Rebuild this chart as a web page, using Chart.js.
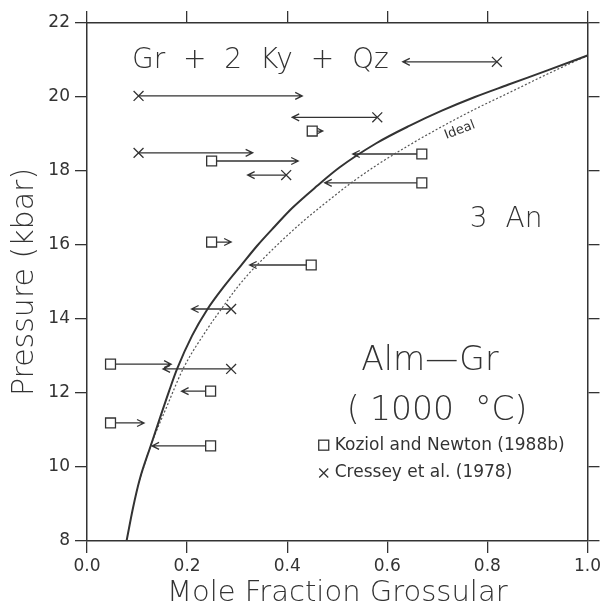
<!DOCTYPE html>
<html>
<head>
<meta charset="utf-8">
<script src="https://cdn.jsdelivr.net/npm/chart.js@4.4.0/dist/chart.umd.min.js"></script>
<style>
  html, body { margin: 0; padding: 0; background: #fff; }
  #grafico { display: block; }
</style>
</head>
<body>
<canvas id="grafico" width="604" height="612"></canvas>
<script>
// curva ajustada (linha cheia) e curva ideal (pontilhada): fração molar x pressão (kbar)
const fitX = [0.079, 0.092, 0.105, 0.128, 0.164, 0.18, 0.21, 0.24, 0.275, 0.308, 0.34, 0.375, 0.41, 0.46, 0.505, 0.578, 0.644, 0.709, 0.775, 0.841, 0.92, 1.0];
const fitP = [8.0, 8.9, 9.65, 10.6, 12.05, 12.65, 13.55, 14.25, 14.9, 15.45, 15.98, 16.5, 17.0, 17.6, 18.1, 18.75, 19.22, 19.63, 20.0, 20.33, 20.72, 21.12];
const idealX = [0.105, 0.128, 0.16, 0.193, 0.239, 0.27, 0.30, 0.323, 0.35, 0.38, 0.43, 0.473, 0.525, 0.578, 0.644, 0.709, 0.775, 0.841, 0.92, 1.0];
const idealP = [9.65, 10.6, 11.65, 12.68, 13.7, 14.3, 14.85, 15.22, 15.6, 16.0, 16.62, 17.1, 17.65, 18.15, 18.7, 19.2, 19.67, 20.1, 20.62, 21.12];

// Koziol and Newton (1988b): quadrado = composição inicial, seta = final
const koziolStart = [0.45, 0.249, 0.669, 0.669, 0.249, 0.448, 0.047, 0.247, 0.047, 0.247];
const koziolEnd = [0.471, 0.422, 0.531, 0.475, 0.288, 0.325, 0.168, 0.189, 0.114, 0.130];
const koziolP = [19.08, 18.27, 18.46, 17.68, 16.08, 15.46, 12.78, 12.05, 11.19, 10.57];

// Cressey et al. (1978)
const cresseyStart = [0.819, 0.103, 0.58, 0.103, 0.398, 0.288, 0.288];
const cresseyEnd = [0.631, 0.43, 0.41, 0.331, 0.321, 0.209, 0.152];
const cresseyP = [20.95, 20.03, 19.45, 18.49, 17.89, 14.27, 12.65];

const xTicks = [0, 0.2, 0.4, 0.6, 0.8, 1.0];
const xTickLabels = ['0.0', '0.2', '0.4', '0.6', '0.8', '1.0'];
const yTicks = [8, 10, 12, 14, 16, 18, 20, 22];
const yTickLabels = ['8', '10', '12', '14', '16', '18', '20', '22'];

const tinta = '#333';
const fonte = "'DejaVu Sans', sans-serif";

function pontos(xs, ys) {
  return xs.map((x, i) => ({ x: x, y: ys[i] }));
}

function seta(ctx, x1, x2, y) {
  const dir = x2 > x1 ? 1 : -1;
  ctx.beginPath();
  ctx.moveTo(x1, y);
  ctx.lineTo(x2, y);
  ctx.moveTo(x2 - dir * 7, y - 3.5);
  ctx.lineTo(x2, y);
  ctx.lineTo(x2 - dir * 7, y + 3.5);
  ctx.stroke();
}

const setas = {
  id: 'setas',
  beforeDatasetsDraw(chart) {
    const { ctx, scales: { x, y } } = chart;
    ctx.save();
    ctx.strokeStyle = tinta;
    ctx.lineWidth = 1.3;
    koziolP.forEach((p, i) => {
      seta(ctx, x.getPixelForValue(koziolStart[i]), x.getPixelForValue(koziolEnd[i]), y.getPixelForValue(p));
    });
    cresseyP.forEach((p, i) => {
      seta(ctx, x.getPixelForValue(cresseyStart[i]), x.getPixelForValue(cresseyEnd[i]), y.getPixelForValue(p));
    });
    ctx.restore();
  }
};

const textos = {
  id: 'textos',
  afterDraw(chart) {
    const { ctx, scales: { x, y } } = chart;
    ctx.save();
    ctx.fillStyle = tinta;
    ctx.strokeStyle = tinta;
    ctx.textBaseline = 'middle';
    ctx.textAlign = 'left';

    ctx.font = '200 28px ' + fonte;
    ctx.fillText('Gr  +  2  Ky  +  Qz', x.getPixelForValue(0.09), y.getPixelForValue(20.97));
    ctx.fillText('3  An', x.getPixelForValue(0.765), y.getPixelForValue(16.68));

    ctx.font = '200 33px ' + fonte;
    ctx.fillText('Alm\u2014Gr', x.getPixelForValue(0.548), y.getPixelForValue(12.86));
    ctx.fillText('( 1000  \u00B0C)', x.getPixelForValue(0.519), y.getPixelForValue(11.49));

    // legenda
    const lx = x.getPixelForValue(0.473);
    const ly1 = y.getPixelForValue(10.59);
    const ly2 = y.getPixelForValue(9.84);
    ctx.lineWidth = 1.3;
    ctx.strokeRect(lx - 5, ly1 - 5, 10, 10);
    ctx.beginPath();
    ctx.moveTo(lx - 4.5, ly2 - 4.5); ctx.lineTo(lx + 4.5, ly2 + 4.5);
    ctx.moveTo(lx + 4.5, ly2 - 4.5); ctx.lineTo(lx - 4.5, ly2 + 4.5);
    ctx.stroke();
    ctx.font = '17px ' + fonte;
    ctx.fillText('Koziol and Newton (1988b)', lx + 11, ly1);
    ctx.fillText('Cressey et al. (1978)', lx + 11, ly2);

    // rótulo da curva ideal
    ctx.translate(x.getPixelForValue(0.745), y.getPixelForValue(19.1));
    ctx.rotate(-21 * Math.PI / 180);
    ctx.textAlign = 'center';
    ctx.font = '13px ' + fonte;
    ctx.fillText('Ideal', 0, 0);
    ctx.restore();
  }
};

function eixo(posicao, min, max, valores, rotulos, tamanho) {
  const horizontal = posicao === 'bottom' || posicao === 'top';
  return {
    type: 'linear',
    position: posicao,
    min: min,
    max: max,
    afterBuildTicks: s => { s.ticks = valores.map(v => ({ value: v })); },
    afterFit: s => { if (horizontal) s.height = tamanho; else s.width = tamanho; },
    border: { display: true, color: tinta, width: 1.5 },
    grid: { drawOnChartArea: false, drawTicks: true, tickLength: 12, color: tinta, lineWidth: 1.3 },
    ticks: {
      display: !!rotulos,
      color: tinta,
      font: { family: fonte, size: 17 },
      padding: horizontal ? 3 : 5,
      callback: (v, i) => rotulos ? rotulos[i] : ''
    }
  };
}

const escalaX = eixo('bottom', 0, 1, xTicks, xTickLabels, 71);
escalaX.title = {
  display: true,
  text: 'Mole Fraction Grossular',
  color: tinta,
  font: { family: fonte, size: 29, weight: 200 },
  padding: { top: 0, bottom: 1 }
};
const escalaY = eixo('left', 8, 22, yTicks, yTickLabels, 87);
escalaY.title = {
  display: true,
  text: 'Pressure (kbar)',
  color: tinta,
  font: { family: fonte, size: 30, weight: 200 },
  padding: { top: 7, bottom: 0 }
};

new Chart(document.getElementById('grafico'), {
  type: 'scatter',
  data: {
    datasets: [
      {
        label: 'fit',
        data: pontos(fitX, fitP),
        showLine: true,
        borderColor: tinta,
        borderWidth: 2,
        pointRadius: 0,
        cubicInterpolationMode: 'monotone'
      },
      {
        label: 'Ideal',
        data: pontos(idealX, idealP),
        showLine: true,
        borderColor: '#555',
        borderWidth: 1.2,
        borderDash: [2, 2],
        pointRadius: 0,
        cubicInterpolationMode: 'monotone'
      },
      {
        label: 'Koziol and Newton (1988b)',
        data: pontos(koziolStart, koziolP),
        pointStyle: 'rect',
        pointRadius: 7,
        borderColor: tinta,
        backgroundColor: '#fff',
        borderWidth: 1.3
      },
      {
        label: 'Cressey et al. (1978)',
        data: pontos(cresseyStart, cresseyP),
        pointStyle: 'crossRot',
        pointRadius: 7,
        borderColor: tinta,
        borderWidth: 1.3
      }
    ]
  },
  options: {
    responsive: false,
    animation: false,
    layout: { padding: 0 },
    plugins: {
      legend: { display: false },
      tooltip: { enabled: false }
    },
    scales: {
      x: escalaX,
      x2: eixo('top', 0, 1, xTicks, null, 23),
      y: escalaY,
      y2: eixo('right', 8, 22, yTicks, null, 10)
    }
  },
  plugins: [setas, textos]
});
</script>
</body>
</html>
